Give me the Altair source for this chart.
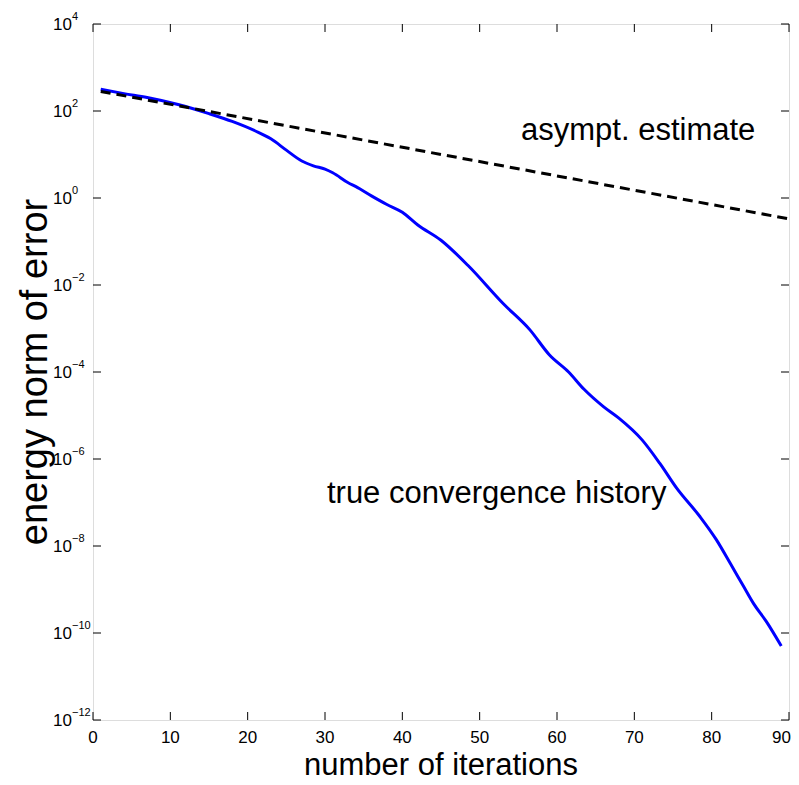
import altair as alt
import pandas as pd

# ---- data ----
iter_true = [1, 4, 7, 11, 15, 18, 21, 23, 25, 27, 28.5, 30, 31, 33, 34, 36, 38, 40,
             42, 45, 48.5, 53, 56.5, 59, 61.5, 63.5, 66, 68, 71, 73.3, 75.5, 78.5,
             80.6, 82.4, 84.1, 85.4, 87.1, 89]
err_true = [316, 251, 204, 141, 87, 57.5, 34.7, 22.9, 12.6, 7.1, 5.5, 4.6, 3.8, 2.24,
            1.82, 1.12, 0.71, 0.47, 0.24, 0.107, 0.028, 3.8e-3, 9.3e-4, 2.5e-4, 1.0e-4,
            4.0e-5, 1.6e-5, 8.7e-6, 2.75e-6, 7.9e-7, 2.1e-7, 4.7e-8, 1.4e-8, 4.0e-9,
            1.2e-9, 4.8e-10, 1.8e-10, 5.0e-11]

iter_est = [1, 90]
err_est = [282, 0.331]

ytick_vals = [1e-12, 1e-10, 1e-8, 1e-6, 1e-4, 1e-2, 1e0, 1e2, 1e4]
ytick_exp = ["\u221212", "\u221210", "\u22128", "\u22126", "\u22124", "\u22122", "0", "2", "4"]
xtick_vals = [0, 10, 20, 30, 40, 50, 60, 70, 80, 90]

ann_text = ["asympt. estimate", "true convergence history"]
ann_x = [70.5, 52.2]
ann_y = [21, 1e-7]

x_title = "number of iterations"
y_title = "energy norm of error"

W, H = 696, 696
FONT = "Liberation Sans, Arial, Helvetica, sans-serif"

xs = alt.Scale(domain=[0, 90], nice=False, zero=False)
ys = alt.Scale(type="log", domain=[1e-12, 1e4], nice=False)

df_true = pd.DataFrame({"it": iter_true, "err": err_true})
df_est = pd.DataFrame({"it": iter_est, "err": err_est})
df_yt = pd.DataFrame({"v": ytick_vals, "e": ytick_exp})
df_xt = pd.DataFrame({"v": xtick_vals, "lab": [str(v) for v in xtick_vals]})
df_ann = pd.DataFrame({"t": ann_text, "x": ann_x, "y": ann_y})
one = pd.DataFrame({"a": [0]})

X = lambda f: alt.X(f, type="quantitative", scale=xs, axis=None)
Y = lambda f: alt.Y(f, type="quantitative", scale=ys, axis=None)

true_line = alt.Chart(df_true).mark_line(
    color="#0000ff", strokeWidth=3, interpolate="monotone").encode(
    x=X("it"), y=Y("err"))
est_line = alt.Chart(df_est).mark_line(
    color="black", strokeWidth=3, strokeDash=[10, 6]).encode(
    x=X("it"), y=Y("err"))

tick_style = dict(color="black", strokeWidth=1)
yt_left = alt.Chart(df_yt).mark_rule(**tick_style).encode(
    y=Y("v"), x=alt.value(0), x2=alt.value(8))
yt_right = alt.Chart(df_yt).mark_rule(**tick_style).encode(
    y=Y("v"), x=alt.value(W), x2=alt.value(W - 8))
xt_bot = alt.Chart(df_xt).mark_rule(**tick_style).encode(
    x=X("v"), y=alt.value(H), y2=alt.value(H - 8))
xt_top = alt.Chart(df_xt).mark_rule(**tick_style).encode(
    x=X("v"), y=alt.value(0), y2=alt.value(8))

ylab_base = alt.Chart(df_yt).mark_text(
    font=FONT, fontSize=17, align="right", baseline="middle", dy=1, color="black").encode(
    y=Y("v"), x=alt.value(-21), text=alt.value("10"))
ylab_exp = alt.Chart(df_yt).mark_text(
    font=FONT, fontSize=11, align="left", baseline="middle", dy=-7, color="black").encode(
    y=Y("v"), x=alt.value(-21), text="e:N")
xlab = alt.Chart(df_xt).transform_filter(alt.datum.v < 90).mark_text(
    font=FONT, fontSize=17, align="center", baseline="middle", color="black").encode(
    x=X("v"), y=alt.value(H + 18), text="lab:N")
xlab_last = alt.Chart(df_xt).transform_filter(alt.datum.v >= 90).mark_text(
    font=FONT, fontSize=17, align="right", baseline="middle", dx=2, color="black").encode(
    x=X("v"), y=alt.value(H + 18), text="lab:N")

ann = alt.Chart(df_ann).mark_text(
    font=FONT, fontSize=31, align="center", baseline="alphabetic", color="black").encode(
    x=X("x"), y=Y("y"), text="t:N")

xt_title = alt.Chart(one).mark_text(
    font=FONT, fontSize=31, align="center", baseline="alphabetic", color="black").encode(
    x=alt.value(W / 2), y=alt.value(H + 55), text=alt.value(x_title))
yt_title = alt.Chart(one).mark_text(
    font=FONT, fontSize=38, align="center",
    baseline="middle", angle=270, color="black").encode(
    x=alt.value(-57), y=alt.value(H / 2), text=alt.value(y_title))

chart = alt.layer(
    true_line, est_line, yt_left, yt_right, xt_bot, xt_top,
    ylab_base, ylab_exp, xlab, xlab_last, ann, xt_title, yt_title
).properties(
    width=W, height=H,
    autosize=alt.AutoSizeParams(type="none"),
    padding={"left": 85, "top": 16, "right": 2, "bottom": 62},
).configure_view(stroke="black", strokeWidth=1.5).configure(background="white")

chart.save("out.html", embed_options={"renderer": "svg", "actions": False})
